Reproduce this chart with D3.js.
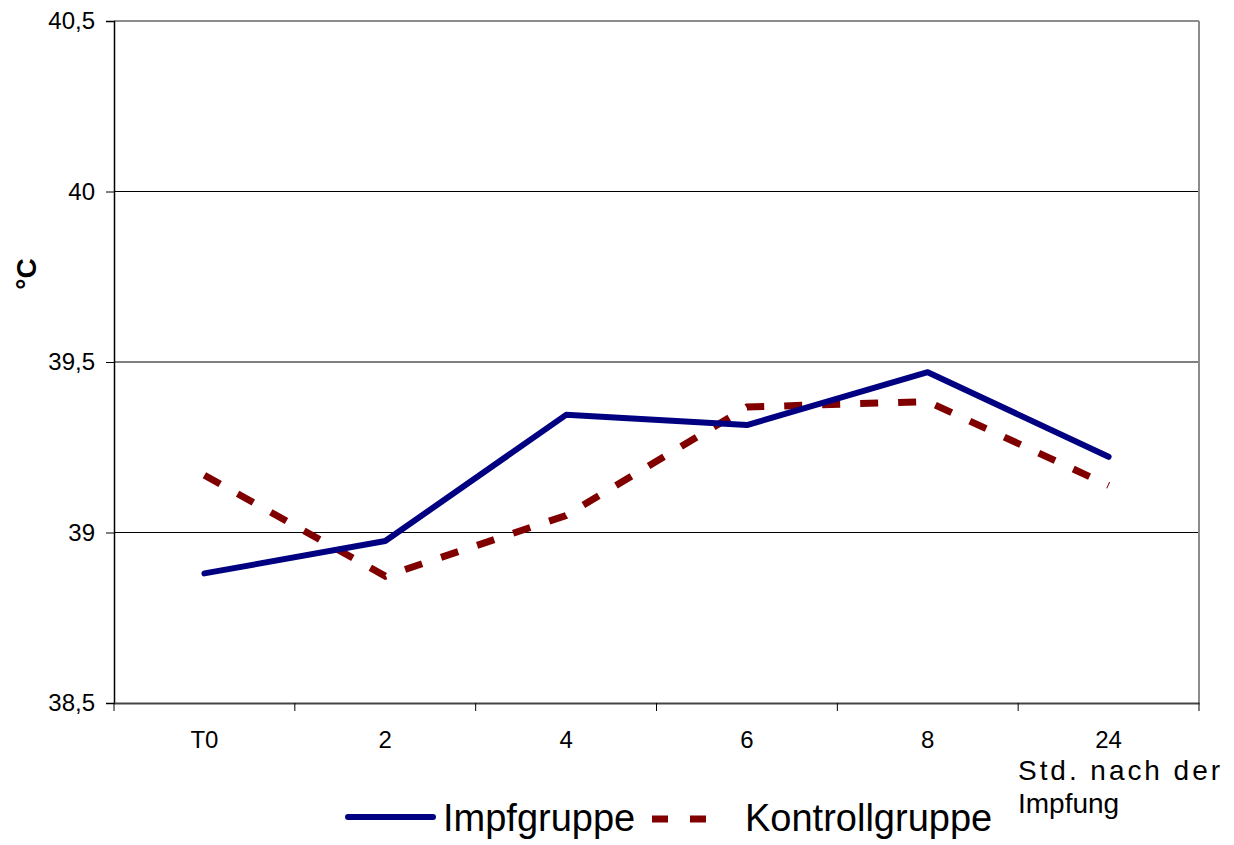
<!DOCTYPE html>
<html><head><meta charset="utf-8">
<script src="https://cdn.jsdelivr.net/npm/d3@7"></script>
<style>body{margin:0;background:#fff}svg{font-family:"Liberation Sans",Arial,sans-serif}</style>
</head><body><svg id="c" width="1234" height="845"></svg>
<script>
const categories = ["T0","2","4","6","8","24"];
const impfgruppe = [38.88, 38.975, 39.345, 39.315, 39.47, 39.222];
const kontrollgruppe = [39.168, 38.872, 39.05, 39.368, 39.384, 39.138];
const yTicks = [38.5, 39, 39.5, 40, 40.5];
const seriesNames = ["Impfgruppe","Kontrollgruppe"];

const svg = d3.select("#c");
const L=114, R=1199, T=21, B=703;
const x = d3.scaleBand().domain(categories).range([L,R]);
const y = d3.scaleLinear().domain([38.5,40.5]).range([B,T]);
const fmt = d => String(d).replace(".", ",");

// gridlines
svg.append("g").selectAll("line").data(yTicks.filter(d=>d>38.5 && d<40.5)).join("line")
  .attr("x1",L).attr("x2",R).attr("y1",d=>y(d)).attr("y2",d=>y(d))
  .attr("stroke","#000").attr("stroke-width",1);
// frame top/right
svg.append("line").attr("x1",L).attr("x2",R).attr("y1",T).attr("y2",T).attr("stroke","#8c8c8c").attr("stroke-width",2);
svg.append("line").attr("x1",R).attr("x2",R).attr("y1",T).attr("y2",B).attr("stroke","#8c8c8c").attr("stroke-width",2);

// y axis
const ya = svg.append("g").attr("transform",`translate(${L},0)`)
  .call(d3.axisLeft(y).tickValues(yTicks).tickFormat(fmt).tickSize(8).tickPadding(11));
ya.attr("font-size",null).attr("font-family",null);
ya.select(".domain").attr("stroke","#000").attr("stroke-width",1.5);
ya.selectAll(".tick line").attr("stroke","#000");
ya.selectAll("text").style("font-size","24px").attr("fill","#000");

// x axis
const xa = svg.append("g").attr("transform",`translate(0,${B})`)
  .call(d3.axisBottom(x).tickSize(0).tickPadding(28));
xa.attr("font-size",null).attr("font-family",null);
xa.select(".domain").attr("stroke","#444").attr("stroke-width",2);
xa.selectAll("text").style("font-size","24px").attr("fill","#000");
const edges = categories.map(c=>x(c)).concat([R]);
svg.append("g").selectAll("line").data(edges).join("line")
  .attr("x1",d=>d).attr("x2",d=>d).attr("y1",B).attr("y2",B+8).attr("stroke","#000").attr("stroke-width",1);

// lines
const line = d3.line().x((d,i)=>x(categories[i])+x.bandwidth()/2).y(d=>y(d));
svg.append("path").datum(kontrollgruppe).attr("d",line).attr("fill","none")
  .attr("stroke","#800000").attr("stroke-width",7).attr("stroke-dasharray","18,20");
svg.append("path").datum(impfgruppe).attr("d",line).attr("fill","none")
  .attr("stroke","#000080").attr("stroke-width",6).attr("stroke-linejoin","round").attr("stroke-linecap","round");

// y label
svg.append("text").attr("transform","translate(36,274) rotate(-90)").attr("text-anchor","middle")
  .style("font-size","28px").attr("font-weight","bold").text("°C");

// x unit
svg.append("text").attr("x",1018).attr("y",780).style("font-size","28px")
  .attr("textLength",202).attr("lengthAdjust","spacing").text("Std. nach der");
svg.append("text").attr("x",1018).attr("y",813).style("font-size","28px").text("Impfung");

// legend
const lg = svg.append("g");
lg.append("line").attr("x1",348).attr("x2",433).attr("y1",817).attr("y2",817)
  .attr("stroke","#000080").attr("stroke-width",6).attr("stroke-linecap","round");
lg.append("text").attr("x",443).attr("y",831).style("font-size","38px").text(seriesNames[0]);
lg.append("line").attr("x1",652).attr("x2",708).attr("y1",819).attr("y2",819)
  .attr("stroke","#800000").attr("stroke-width",7).attr("stroke-dasharray","16,22");
lg.append("text").attr("x",745).attr("y",831).style("font-size","38px").text(seriesNames[1]);
</script></body></html>
